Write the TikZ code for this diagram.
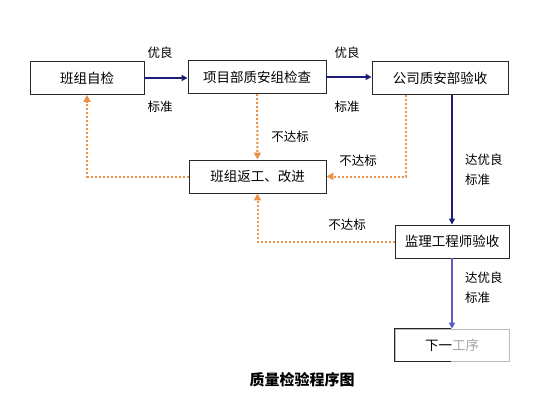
\documentclass[tikz,border=0pt]{standalone}
\usepackage{fontspec}
\setmainfont{Noto Sans CJK SC}
\usetikzlibrary{arrows.meta}
\definecolor{navy}{RGB}{30,30,120}
\definecolor{lightnavy}{RGB}{95,90,200}
\definecolor{dotorange}{RGB}{236,145,70}
\definecolor{boxline}{RGB}{40,40,40}
\begin{document}
\begin{tikzpicture}[x=1pt,y=-1pt,
  box/.style={draw=boxline,line width=0.9pt,minimum height=33pt,inner sep=0pt,font=\fontsize{13.5}{15}\selectfont},
  lbl/.style={font=\fontsize{12.5}{14}\selectfont,inner sep=0pt},
  lbl2/.style={font=\fontsize{12.5}{20}\selectfont,inner sep=0pt,align=left,anchor=north west},
  good/.style={draw=navy,line width=2pt,-{Triangle[length=6pt,width=6pt]}},
  good2/.style={draw=lightnavy,line width=1.6pt,-{Triangle[length=6pt,width=6pt]}},
  bad/.style={draw=dotorange,line width=2pt,dash pattern=on 2pt off 2pt,-{Triangle[length=7pt,width=7pt,fill=dotorange]}}
]
\useasboundingbox (0,0) rectangle (560,420);
\fill[white] (0,0) rectangle (560,420);

\node[box,minimum width=114pt] (b1) at (87,78) {班组自检};
\node[box,minimum width=138pt] (b2) at (257,77) {项目部质安组检查};
\node[box,minimum width=136pt] (b3) at (440,78) {公司质安部验收};
\node[box,minimum width=137pt] (b4) at (257.5,176.5) {班组返工、改进};
\node[box,minimum width=114pt] (b5) at (452,241.5) {监理工程师验收};
\node[box,draw=gray!55,line width=0.7pt,minimum width=114pt,minimum height=32pt] (b6) at (452,345) {下一{\color{gray!70}工序}};
\draw[boxline,line width=0.9pt] (b6.north west -| 451,0) -- (b6.north west) -- (b6.south west) -- (b6.south west -| 451,0);

\coordinate (c1) at (406,0);
\draw[good] (b1.east) -- (b1.east -| b2.west);
\draw[good] (b2.east) -- (b2.east -| b3.west);
\draw[good] (b3.south -| b5.north) -- (b5.north);
\draw[good2] (b5.south) -- (b6.north);

\draw[bad] (b2.south) -- (b4.north);
\draw[bad] (b3.south -| c1) |- (b4.east);
\draw[bad] (b4.west) -| (b1.south);
\draw[bad] (b5.west) -| (b4.south);

\node[lbl] (t1) at (160,53) {优良};
\node[lbl] (t2) at (160,107) {标准};
\node[lbl] (t3) at (347,53) {优良};
\node[lbl] (t4) at (347,107) {标准};
\node[lbl] (t5) at (290,137) {不达标};
\node[lbl] (t6) at (358,161) {不达标};
\node[lbl] (t7) at (347,225) {不达标};
\node[lbl2] (t8) at (465,154) {达优良\\标准};
\node[lbl2] (t9) at (465,272) {达优良\\标准};
\node[font=\fontsize{15}{17}\selectfont\bfseries,inner sep=0pt] (title) at (302,380) {质量检验程序图};
\end{tikzpicture}
\end{document}
